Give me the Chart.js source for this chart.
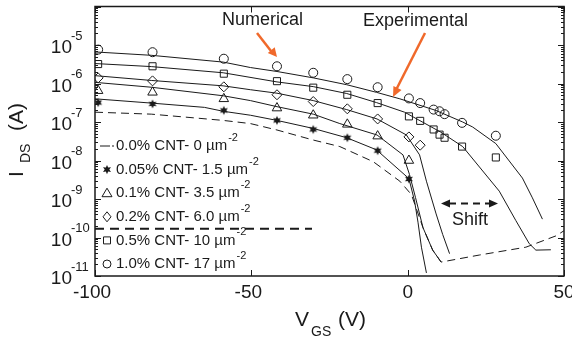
<!DOCTYPE html>
<html>
<head>
<meta charset="utf-8">
<script src="https://cdn.jsdelivr.net/npm/chart.js@4.4.1/dist/chart.umd.min.js"></script>
<style>
  html, body { margin: 0; padding: 0; background: #fff; }
</style>
</head>
<body>
<canvas id="ivChart" width="572" height="344"></canvas>
<script>
// experimental gate voltages (V), shared by the marker series
const vgsExp = [-99, -81.6, -58.8, -41.8, -30.2, -19.3, -9.6, 0.4, 4, 8.3, 10.2, 11.8, 17.4, 28.2];
const expCirc = [7.6e-6, 6.5e-6, 4.4e-6, 2.8e-6, 1.9e-6, 1.3e-6, 8e-7, 4.1e-7, 3.1e-7, 2.1e-7, 1.9e-7, 1.6e-7, 9.5e-8, 4.4e-8];
const expSq   = [3.2e-6, 2.8e-6, 1.8e-6, 1.15e-6, 7.8e-7, 5.1e-7, 3.1e-7, 1.4e-7, 1.07e-7, 6.4e-8, 4.7e-8, 3.9e-8, 2.3e-8, 1.2e-8];
const expDiam = [1.4e-6, 1.17e-6, 8.2e-7, 5.1e-7, 3.4e-7, 2.2e-7, 1.2e-7, 4.1e-8, 2.5e-8];
const expTri  = [6.5e-7, 5.9e-7, 4.0e-7, 2.3e-7, 1.5e-7, 8.7e-8, 4.3e-8, 1.0e-8];
const expStar = [3.2e-7, 2.95e-7, 2.0e-7, 1.1e-7, 6.4e-8, 3.9e-8, 1.8e-8, 3.3e-9];

// numerical curves [VGS, IDS]
const simCirc = [[-100, 6.6e-6], [-82, 5.4e-6], [-59, 3.6e-6], [-50.3, 2.6e-6], [-41.8, 2.05e-6], [-30.2, 1.4e-6], [-19.5, 9.3e-7], [-10, 5.9e-7], [-2.5, 4.0e-7], [9, 2.0e-7], [17.6, 1.0e-7], [20.8, 7.4e-8], [28.2, 2.75e-8], [36.7, 3.5e-9], [39.9, 1.07e-9], [43.1, 3.0e-10]];
const simSq   = [[-100, 3.3e-6], [-82, 2.75e-6], [-59, 1.9e-6], [-41.8, 1.1e-6], [-30.2, 8.3e-7], [-19.5, 5.5e-7], [-10, 3.2e-7], [-1, 1.8e-7], [10.5, 5.5e-8], [17.6, 2.3e-8], [29.3, 1.6e-9], [34.6, 2.75e-10], [38.9, 6.9e-11], [41, 4.7e-11], [45.8, 4.8e-11]];
const simDiam = [[-100, 1.6e-6], [-82, 1.2e-6], [-59, 8.7e-7], [-50.3, 6.9e-7], [-41.8, 5.6e-7], [-30.2, 3.6e-7], [-19.5, 2.1e-7], [-9.8, 1.2e-7], [-0.4, 4.6e-8], [3.8, 1.4e-8], [6, 2.9e-9], [9.1, 4.1e-10], [11.2, 1.2e-10], [13.4, 3.8e-11]];
const simTri  = [[-100, 1.07e-6], [-82, 8e-7], [-59, 4.8e-7], [-50.3, 3.6e-7], [-41.8, 2.5e-7], [-30.2, 1.6e-7], [-21.7, 9.1e-8], [-9.8, 4.6e-8], [-1.5, 1.4e-8], [0.6, 4.3e-9], [2.5, 1.1e-9], [4.9, 1.8e-10], [8, 4.7e-11], [10.7, 2.3e-11]];
const simStar = [[-100, 4e-7], [-82, 3.1e-7], [-65, 2.4e-7], [-59, 1.9e-7], [-50.3, 1.5e-7], [-41.8, 1.1e-7], [-30.2, 6.8e-8], [-19.5, 3.9e-8], [-10, 1.9e-8], [0.4, 3.4e-9], [2.2, 8.9e-10], [3.3, 2.5e-10], [4.4, 5.6e-11], [6, 1.2e-11]];
const simZero = [[-100, 1.8e-7], [-82, 1.6e-7], [-59, 1.1e-7], [-50.3, 9.1e-8], [-41.8, 6.2e-8], [-30.2, 3.4e-8], [-21.7, 2.3e-8], [-11, 9.3e-9], [-2.5, 2.9e-9], [1.2, 1.3e-9], [4.9, 1.8e-10], [8, 4.7e-11], [10.7, 2.3e-11], [22.9, 3.5e-11], [37.8, 5.6e-11], [47.4, 1.1e-10], [50, 1.5e-10]];
const refLine = [[-100, 1.7e-10], [-30.6, 1.7e-10]];

const vgsTicks = [-100, -50, 0, 50];
const idsDecades = [-11, -10, -9, -8, -7, -6, -5];
const legendRows = [
  ["line", "0.0% CNT- 0 µm"],
  ["star", "0.05% CNT- 1.5 µm"],
  ["tri", "0.1% CNT- 3.5 µm"],
  ["diam", "0.2% CNT- 6.0 µm"],
  ["sq", "0.5% CNT- 10 µm"],
  ["circ", "1.0% CNT- 17 µm"]
];

const FONT = '"Liberation Sans", Arial, Helvetica, sans-serif';
const INK = "#1a1a1a";
const ORANGE = "#f0692b";

function starPath(g, cx, cy, r) {
  g.beginPath();
  for (let i = 0; i < 12; i++) {
    const rr = i % 2 ? r * 0.5 : r;
    const a = Math.PI / 6 * i - Math.PI / 2;
    const px = cx + rr * Math.cos(a), py = cy + rr * Math.sin(a);
    i ? g.lineTo(px, py) : g.moveTo(px, py);
  }
  g.closePath();
}
function makeStar(r) {
  const c = document.createElement("canvas");
  const s = Math.ceil(r * 2 + 2);
  c.width = s; c.height = s;
  const g = c.getContext("2d");
  g.fillStyle = INK;
  starPath(g, s / 2, s / 2, r);
  g.fill();
  return c;
}
const starImg = makeStar(4.6);

const toPts = (v, i) => i.map((y, k) => ({ x: v[k], y }));
const pairPts = arr => arr.map(([x, y]) => ({ x, y }));

const lineDs = (arr, dash, w) => ({
  data: pairPts(arr), showLine: true, pointRadius: 0, borderColor: INK,
  borderWidth: w || 1, borderDash: dash || [], tension: 0, fill: false
});
const markDs = (pts, style, r) => ({
  data: pts, showLine: false, pointStyle: style, pointRadius: r,
  borderColor: INK, backgroundColor: "rgba(0,0,0,0)", pointBorderWidth: 1
});

function drawMark(ctx, kind, x, y) {
  ctx.save();
  ctx.strokeStyle = INK; ctx.fillStyle = INK; ctx.lineWidth = 1;
  ctx.beginPath();
  if (kind === "circ") { ctx.arc(x, y, 4, 0, Math.PI * 2); ctx.stroke(); }
  else if (kind === "sq") { ctx.rect(x - 3.5, y - 3.5, 7, 7); ctx.stroke(); }
  else if (kind === "diam") { ctx.moveTo(x, y - 5); ctx.lineTo(x + 4, y); ctx.lineTo(x, y + 5); ctx.lineTo(x - 4, y); ctx.closePath(); ctx.stroke(); }
  else if (kind === "tri") { ctx.moveTo(x, y - 5); ctx.lineTo(x + 5, y + 3.5); ctx.lineTo(x - 5, y + 3.5); ctx.closePath(); ctx.stroke(); }
  else if (kind === "star") { starPath(ctx, x, y, 4.6); ctx.fill(); }
  else if (kind === "line") {
    ctx.moveTo(100, y); ctx.lineTo(110, y); ctx.moveTo(112, y); ctx.lineTo(114, y); ctx.stroke();
  }
  ctx.restore();
}

function arrowHead(ctx, x1, y1, x2, y2, len, half) {
  const a = Math.atan2(y2 - y1, x2 - x1);
  ctx.beginPath();
  ctx.moveTo(x2, y2);
  ctx.lineTo(x2 - len * Math.cos(a) + half * Math.sin(a), y2 - len * Math.sin(a) - half * Math.cos(a));
  ctx.lineTo(x2 - len * Math.cos(a) - half * Math.sin(a), y2 - len * Math.sin(a) + half * Math.cos(a));
  ctx.closePath();
  ctx.fill();
}

const decor = {
  id: "decor",
  afterDatasetsDraw(chart) {
    const { ctx, chartArea: a, scales: { x, y } } = chart;
    ctx.save();
    ctx.strokeStyle = INK; ctx.fillStyle = INK;

    // frame
    ctx.lineWidth = 1.5;
    ctx.strokeRect(a.left, a.top, a.right - a.left, a.bottom - a.top);

    // y ticks (inward, both sides)
    ctx.lineWidth = 1;
    ctx.beginPath();
    for (let e = -11; e <= -4; e++) {
      const py = Math.round(y.getPixelForValue(Math.pow(10, e))) + 0.5;
      ctx.moveTo(a.left, py); ctx.lineTo(a.left + 6, py);
      ctx.moveTo(a.right, py); ctx.lineTo(a.right - 6, py);
      if (e < -4) {
        for (let m = 2; m <= 9; m++) {
          const pm = Math.round(y.getPixelForValue(m * Math.pow(10, e))) + 0.5;
          ctx.moveTo(a.left, pm); ctx.lineTo(a.left + 3, pm);
          ctx.moveTo(a.right, pm); ctx.lineTo(a.right - 3, pm);
        }
      }
    }
    // x ticks
    vgsTicks.forEach(v => {
      const px = Math.round(x.getPixelForValue(v)) + 0.5;
      ctx.moveTo(px, a.bottom); ctx.lineTo(px, a.bottom - 6);
      ctx.moveTo(px, a.top); ctx.lineTo(px, a.top + 6);
    });
    ctx.stroke();

    // y tick labels 10^n
    idsDecades.forEach(e => {
      const py = y.getPixelForValue(Math.pow(10, e));
      ctx.font = "19px " + FONT;
      ctx.textAlign = "right"; ctx.textBaseline = "middle";
      ctx.fillText("10", 72, py + 3);
      ctx.font = "13px " + FONT;
      ctx.textAlign = "left";
      ctx.fillText(String(e), 71, py - 9);
    });

    // x tick labels
    ctx.font = "19px " + FONT;
    ctx.textAlign = "center"; ctx.textBaseline = "middle";
    vgsTicks.forEach(v => {
      const px = x.getPixelForValue(v);
      ctx.fillText(String(v), v < 0 ? px - 3 : px, 293);
    });

    // axis titles
    ctx.textAlign = "left"; ctx.textBaseline = "middle";
    ctx.font = "21px " + FONT;
    ctx.fillText("V", 295, 320);
    ctx.font = "14px " + FONT;
    ctx.fillText("GS", 311, 332);
    ctx.font = "21px " + FONT;
    ctx.fillText("(V)", 338, 320);

    ctx.save();
    ctx.translate(23, 177);
    ctx.rotate(-Math.PI / 2);
    ctx.textBaseline = "alphabetic";
    ctx.font = "21px " + FONT;
    ctx.fillText("I", 0, 0);
    ctx.font = "14px " + FONT;
    ctx.fillText("DS", 14, 7);
    ctx.font = "21px " + FONT;
    ctx.fillText("(A)", 46, 0);
    ctx.restore();

    // legend
    legendRows.forEach(([kind, txt], k) => {
      const ry = 146 + k * 23.6;
      drawMark(ctx, kind, 107, ry);
      ctx.font = "15px " + FONT;
      ctx.textAlign = "left"; ctx.textBaseline = "middle";
      ctx.fillText(txt, 116, ry);
      const w = ctx.measureText(txt).width;
      ctx.font = "11px " + FONT;
      ctx.fillText("-2", 116 + w + 1, ry - 8);
    });

    // annotations
    ctx.font = "18px " + FONT;
    ctx.textAlign = "left"; ctx.textBaseline = "middle";
    ctx.fillText("Numerical", 222, 20);
    ctx.fillText("Experimental", 363, 21);
    ctx.fillText("Shift", 452, 220);

    ctx.strokeStyle = ORANGE; ctx.fillStyle = ORANGE; ctx.lineWidth = 2.5;
    ctx.beginPath(); ctx.moveTo(257, 33); ctx.lineTo(271, 51); ctx.stroke();
    arrowHead(ctx, 257, 33, 277, 57, 9, 4.5);
    ctx.beginPath(); ctx.moveTo(425, 33); ctx.lineTo(396, 90); ctx.stroke();
    arrowHead(ctx, 425, 33, 393, 97, 10, 4.5);

    // shift arrow
    ctx.strokeStyle = INK; ctx.fillStyle = INK; ctx.lineWidth = 2;
    ctx.setLineDash([7, 5]);
    ctx.beginPath(); ctx.moveTo(449, 203.5); ctx.lineTo(490, 203.5); ctx.stroke();
    ctx.setLineDash([]);
    arrowHead(ctx, 460, 203.5, 441, 203.5, 9, 4);
    arrowHead(ctx, 480, 203.5, 498, 203.5, 9, 4);

    ctx.restore();
  }
};

new Chart(document.getElementById("ivChart"), {
  type: "scatter",
  data: {
    datasets: [
      lineDs(simCirc), lineDs(simSq), lineDs(simDiam), lineDs(simTri), lineDs(simStar),
      lineDs(simZero, [8, 5]),
      lineDs(refLine, [9, 6], 2),
      markDs(toPts(vgsExp, expCirc), "circle", 4.5),
      markDs(toPts(vgsExp, expSq), "rect", 5),
      markDs(toPts(vgsExp, expDiam), "rectRot", 5),
      markDs(toPts(vgsExp, expTri), "triangle", 5.5),
      markDs(toPts(vgsExp, expStar), starImg, 5)
    ]
  },
  options: {
    responsive: false,
    animation: false,
    layout: { padding: { left: 95, right: 8, top: 4, bottom: 68 } },
    plugins: { legend: { display: false }, tooltip: { enabled: false } },
    scales: {
      x: { type: "linear", min: -100, max: 50, display: false },
      y: { type: "logarithmic", min: 1e-11, max: 1e-4, display: false }
    }
  },
  plugins: [decor]
});
</script>
</body>
</html>
